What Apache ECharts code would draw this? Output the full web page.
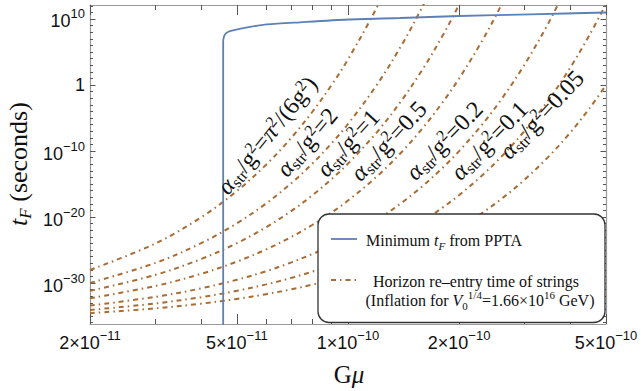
<!DOCTYPE html>
<html><head><meta charset="utf-8">
<script src="https://cdn.jsdelivr.net/npm/echarts@6/dist/echarts.min.js"></script>
<style>html,body{margin:0;padding:0;background:#fff}#c{width:641px;height:391px}</style>
</head><body><div id="c"></div>
<script>
// ---------------- data ----------------
// Gmu sample points, in units of 1e-11
const gmuGrid = [2, 3, 4, 5, 6, 7, 8, 9, 10, 12, 14, 16, 18, 20, 23, 26, 30, 35, 40, 45, 50];
// log10(t_F / s) of horizon re-entry curves, one array per alpha_str/g^2
const curveLabels = ['π²/(6g²)', '2', '1', '0.5', '0.2', '0.1', '0.05'];
const logT_pi2  = [-28.03, -24.04, -20.05, -16.06, -12.07, -8.08, -4.09, -0.10, 3.89, 11.87, 19.85];
const logT_2    = [-29.99, -26.98, -23.97, -20.96, -17.95, -14.94, -11.93, -8.92, -5.91, 0.11, 6.13, 12.15, 18.17];
const logT_1    = [-31.19, -28.78, -26.37, -23.96, -21.55, -19.14, -16.73, -14.32, -11.91, -7.09, -2.27, 2.55, 7.37, 12.19, 19.42];
const logT_05   = [-32.31, -30.46, -28.61, -26.76, -24.91, -23.06, -21.21, -19.36, -17.51, -13.81, -10.11, -6.41, -2.71, 0.99, 6.54, 12.09, 19.49];
const logT_02   = [-33.41, -32.11, -30.81, -29.51, -28.21, -26.91, -25.61, -24.31, -23.01, -20.41, -17.81, -15.21, -12.61, -10.01, -6.11, -2.21, 2.99, 9.49, 15.99];
const logT_01   = [-34.08, -33.11, -32.15, -31.18, -30.21, -29.25, -28.28, -27.32, -26.35, -24.42, -22.49, -20.55, -18.62, -16.69, -13.79, -10.89, -7.03, -2.20, 2.63, 7.46, 12.29];
const logT_005  = [-34.57, -33.85, -33.13, -32.41, -31.69, -30.97, -30.25, -29.53, -28.81, -27.37, -25.93, -24.49, -23.05, -21.61, -19.45, -17.29, -14.41, -10.81, -7.21, -3.61, -0.01];
const brownCurves = [logT_pi2, logT_2, logT_1, logT_05, logT_02, logT_01, logT_005];

// Minimum t_F from PPTA (blue)
const ppta_gmu  = [4.59e-11, 4.59e-11, 4.61e-11, 4.653e-11, 4.726e-11, 4.876e-11, 5.423e-11, 6.031e-11, 7.409e-11, 1.0e-10, 1.384e-10, 2.0e-10, 3.116e-10, 5.0e-10];
const ppta_logT = [-38, 6.52, 7.27, 7.73, 8.03, 8.26, 8.79, 9.17, 9.50, 9.92, 10.15, 10.45, 10.71, 10.98];

// axes
const xRange = [2e-11, 5e-10];
const yRangeExp = [-36.21, 12.12];
const xMajorTicks = [2e-11, 5e-11, 1e-10, 2e-10, 5e-10];
const xMajorMant  = ['2', '5', '1', '2', '5'];
const xMajorExp   = ['−11', '−11', '−10', '−10', '−10'];
const xMinorTicks = [3e-11, 4e-11, 6e-11, 7e-11, 8e-11, 9e-11, 3e-10, 4e-10];
const yMajorExps  = [-30, -20, -10, 0, 10];
const yMajorLabelExp = ['−30', '−20', '−10', '', '10'];
const yMinorExps = [];
for (let e = -36; e <= 12; e++) if (yMajorExps.indexOf(e) < 0) yMinorExps.push(e);

// ---------------- chart ----------------
const SANS = 'Liberation Sans, Arial, sans-serif';
const SERIF = 'Liberation Serif, Times New Roman, serif';
const FRAME = '#9a9a9a', TICK = '#555', BROWN = '#a86c34', BLUE = '#5e81b5', INK = '#111';
const DASHDOT = [5, 4, 1.5, 4];
const L10 = Math.log10;
const xMin = L10(xRange[0]), xMax = L10(xRange[1]);
const yMin = yRangeExp[0], yMax = yRangeExp[1];

function near(a, b) { return Math.abs(a - b) < 1e-6; }

const xLabel = {
  show: true, margin: 5, interval: 0,
  customValues: xMajorTicks.map(L10),
  formatter: function (v) {
    for (let i = 0; i < xMajorTicks.length; i++) if (near(L10(xMajorTicks[i]), v)) return '{b|' + xMajorMant[i] + '×10}{s|' + xMajorExp[i] + '}';
    return '';
  },
  rich: {
    b: { fontSize: 18, fontFamily: SANS, color: INK, padding: [5, 0, 0, 0], verticalAlign: 'bottom' },
    s: { fontSize: 13, fontFamily: SANS, color: INK, verticalAlign: 'top' }
  }
};
const yLabel = {
  show: true, margin: 5, interval: 0,
  customValues: yMajorExps,
  formatter: function (v) {
    for (let i = 0; i < yMajorExps.length; i++) if (near(yMajorExps[i], v)) return yMajorExps[i] === 0 ? '{c|1}' : '{b|10}{s|' + yMajorLabelExp[i] + '}';
    return '';
  },
  rich: {
    b: { fontSize: 18, fontFamily: SANS, color: INK, padding: [5, 0, 0, 0], verticalAlign: 'bottom' },
    s: { fontSize: 13, fontFamily: SANS, color: INK, verticalAlign: 'top' },
    c: { fontSize: 18, fontFamily: SANS, color: INK }
  }
};

function axis(kind, position, values, len, showLine, label) {
  const isX = kind === 'x';
  return {
    type: 'value', position: position,
    min: isX ? xMin : yMin, max: isX ? xMax : yMax,
    axisLine: { show: showLine, onZero: false, lineStyle: { color: FRAME, width: 1.2 } },
    axisTick: { show: true, inside: true, length: len, customValues: values, lineStyle: { color: TICK, width: 1 } },
    axisLabel: label || { show: false },
    splitLine: { show: false }, axisPointer: { show: false }
  };
}

const xAxes = [
  axis('x', 'bottom', xMajorTicks.map(L10), 10, true, xLabel),
  axis('x', 'bottom', xMinorTicks.map(L10), 5, false),
  axis('x', 'top', xMajorTicks.map(L10), 10, true),
  axis('x', 'top', xMinorTicks.map(L10), 5, false)
];
const yAxes = [
  axis('y', 'left', yMajorExps, 5.5, true, yLabel),
  axis('y', 'left', yMinorExps, 3, false),
  axis('y', 'right', yMajorExps, 5.5, true),
  axis('y', 'right', yMinorExps, 3, false)
];

const series = brownCurves.map(function (arr, k) {
  return {
    type: 'line', name: 'α/g² = ' + curveLabels[k], xAxisIndex: 0, yAxisIndex: 0,
    data: arr.map(function (v, i) { return [L10(gmuGrid[i] * 1e-11), v]; }),
    symbol: 'none', smooth: 0.35, silent: true, z: 2,
    lineStyle: { color: BROWN, width: 2, type: DASHDOT, cap: 'butt' }
  };
});
series.push({
  type: 'line', name: 'Minimum t_F from PPTA', xAxisIndex: 0, yAxisIndex: 0,
  data: ppta_gmu.map(function (g, i) { return [L10(g), ppta_logT[i]]; }),
  symbol: 'none', smooth: 0.25, silent: true, z: 3,
  lineStyle: { color: BLUE, width: 1.8 }
});

// ---- text annotations ----
const lblRich = {
  a: { fontFamily: SERIF, fontSize: 24, fontStyle: 'italic', lineHeight: 27, fill: INK },
  n: { fontFamily: SERIF, fontSize: 24, lineHeight: 27, fill: INK },
  sub: { fontFamily: SERIF, fontSize: 16, verticalAlign: 'bottom', fill: INK },
  sup: { fontFamily: SERIF, fontSize: 16, verticalAlign: 'top', fill: INK }
};
function curveLabelText(v) {
  if (v === 'π²/(6g²)') return '{a|α}{sub|str}{n|/g}{sup|2}{n|=}{a|π}{sup|2}{n|/(6g}{sup|2}{n|)}';
  return '{a|α}{sub|str}{n|/g}{sup|2}{n|=' + v + '}';
}
// left-middle point and angle of each label (pixels, degrees)
const labelPlace = [[222, 191, 51], [281, 173, 50], [321, 173, 48], [355, 177, 47], [410, 176, 46], [455, 176, 46], [504, 155, 47]];
const graphics = [];
curveLabels.forEach(function (v, k) {
  const p = labelPlace[k], th = p[2] * Math.PI / 180;
  graphics.push({
    type: 'text', x: p[0], y: p[1], rotation: th, z: 50,
    style: { text: curveLabelText(v), rich: lblRich, align: 'left', verticalAlign: 'middle', fill: INK, fontFamily: SERIF, fontSize: 24 }
  });
});

// axis titles
graphics.push({
  type: 'text', x: 18, y: 164, rotation: Math.PI / 2, z: 50,
  style: {
    text: '{i|t}{isub|F}{n| (seconds)}', align: 'center', verticalAlign: 'middle', fontFamily: SERIF, fontSize: 26, fill: INK,
    rich: {
      i: { fontFamily: SERIF, fontSize: 26, fontStyle: 'italic', lineHeight: 32, fill: INK },
      isub: { fontFamily: SERIF, fontSize: 17, fontStyle: 'italic', verticalAlign: 'bottom', fill: INK },
      n: { fontFamily: SERIF, fontSize: 26, lineHeight: 32, fill: INK }
    }
  }
});
graphics.push({
  type: 'text', x: 349, y: 374, z: 50,
  style: {
    text: '{n|G}{i|μ}', align: 'center', verticalAlign: 'middle', fontFamily: SERIF, fontSize: 25, fill: INK,
    rich: {
      n: { fontFamily: SERIF, fontSize: 25, fill: INK },
      i: { fontFamily: SERIF, fontSize: 25, fontStyle: 'italic', fill: INK }
    }
  }
});

// legend box
const legRich = {
  n: { fontFamily: SERIF, fontSize: 16, lineHeight: 22, fill: INK },
  i: { fontFamily: SERIF, fontSize: 16, fontStyle: 'italic', lineHeight: 22, fill: INK },
  isub: { fontFamily: SERIF, fontSize: 11, fontStyle: 'italic', verticalAlign: 'bottom', fill: INK },
  sub: { fontFamily: SERIF, fontSize: 11, verticalAlign: 'bottom', fill: INK },
  sup: { fontFamily: SERIF, fontSize: 11, verticalAlign: 'top', fill: INK }
};
graphics.push({ type: 'rect', z: 60, shape: { x: 318, y: 214, width: 287, height: 108.5, r: 11 }, style: { fill: '#fff', stroke: '#333', lineWidth: 1.3 } });
graphics.push({ type: 'line', z: 61, shape: { x1: 331, y1: 239, x2: 357, y2: 239 }, style: { stroke: BLUE, lineWidth: 1.8 } });
graphics.push({ type: 'line', z: 61, shape: { x1: 331, y1: 280, x2: 357, y2: 280 }, style: { stroke: BROWN, lineWidth: 2, lineDash: DASHDOT } });
graphics.push({ type: 'text', z: 61, x: 366, y: 240, style: { text: '{n|Minimum }{i|t}{isub|F}{n| from PPTA}', rich: legRich, align: 'left', verticalAlign: 'middle', fontFamily: SERIF, fontSize: 16, fill: INK } });
graphics.push({ type: 'text', z: 61, x: 476, y: 281, style: { text: '{n|Horizon re–entry time of strings}', rich: legRich, align: 'center', verticalAlign: 'middle', fontFamily: SERIF, fontSize: 16, fill: INK } });
graphics.push({ type: 'text', z: 61, x: 480, y: 300, style: { text: '{n|(Inflation for }{i|V}{sub|0}{sup|1/4}{n|=1.66×10}{sup|16}{n| GeV)}', rich: legRich, align: 'center', verticalAlign: 'middle', fontFamily: SERIF, fontSize: 16, fill: INK } });

const chart = echarts.init(document.getElementById('c'), null, { renderer: 'svg', width: 641, height: 391 });
chart.setOption({
  animation: false,
  backgroundColor: '#fff',
  grid: { left: 90, right: 35, top: 5, bottom: 67, containLabel: false, outerBoundsMode: 'none' },
  xAxis: xAxes,
  yAxis: yAxes,
  series: series,
  graphic: { elements: graphics }
});
</script>
</body></html>
